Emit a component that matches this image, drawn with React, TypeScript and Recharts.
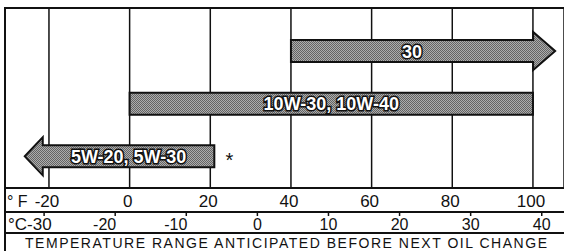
import React from "react";
import { BarChart, Bar, XAxis, YAxis, CartesianGrid, Label } from "recharts";

// oil grades and the °F range each covers (arrow ends included)
const oils = ["30", "10W-30, 10W-40", "5W-20, 5W-30"];
const lowF = [40, 0, -26];
const highF = [105.5, 100, 21];
const arrows = ["right", "none", "left"];
const notes = ["", "", "*"];

const fahrenheitTicks = [-20, 0, 20, 40, 60, 80, 100];
const celsiusTicks = [-30, -20, -10, 0, 10, 20, 30, 40];
const title = "TEMPERATURE RANGE ANTICIPATED BEFORE NEXT OIL CHANGE";

const data = oils.map((name, i) => ({
  name,
  range: [lowF[i], highF[i]],
  arrow: arrows[i],
  note: notes[i],
}));

const FONT = '"Liberation Sans", Arial, Helvetica, sans-serif';

function ArrowBar(props: any) {
  const { x, y, width, height, payload } = props;
  const cy = y + height / 2;
  const wing = 19;
  let d = "";
  let bodyL = x;
  let bodyR = x + width;
  if (payload.arrow === "right") {
    const head = 22;
    bodyR = x + width - head;
    d = `M${x},${y} H${bodyR} V${cy - wing} L${x + width},${cy} L${bodyR},${cy + wing} V${y + height} H${x} Z`;
  } else if (payload.arrow === "left") {
    const head = 18;
    bodyL = x + head;
    d = `M${x + width},${y} H${bodyL} V${cy - wing} L${x},${cy} L${bodyL},${cy + wing} V${y + height} H${x + width} Z`;
  } else {
    d = `M${x},${y} H${x + width} V${y + height} H${x} Z`;
  }
  return (
    <g>
      <defs>
        <pattern id="halftone" width="2" height="2" patternUnits="userSpaceOnUse">
          <rect width="2" height="2" fill="#adadad" />
          <rect width="1" height="1" fill="#646464" />
          <rect x="1" y="1" width="1" height="1" fill="#646464" />
        </pattern>
      </defs>
      <path d={d} fill="url(#halftone)" stroke="#111" strokeWidth={2} />
      <text
        x={(bodyL + bodyR) / 2}
        y={cy + 6.5}
        textAnchor="middle"
        fontFamily={FONT}
        fontWeight="bold"
        fontSize={18}
        fill="#fff"
        stroke="#111"
        strokeWidth={3}
        paintOrder="stroke"
      >
        {payload.name}
      </text>
      {payload.note ? (
        <text x={x + width + 15} y={cy + 11} textAnchor="middle" fontFamily={FONT} fontSize={20} fill="#111">
          {payload.note}
        </text>
      ) : null}
    </g>
  );
}

function FTick(props: any) {
  const { x, y, payload } = props;
  return (
    <text x={x - 2} y={y + 19} textAnchor="middle" fontFamily={FONT} fontSize={17} fill="#111">
      {payload.value}
    </text>
  );
}

function CTick(props: any) {
  const { x, y, payload } = props;
  const v = payload.value;
  if (v === celsiusTicks[0]) {
    return (
      <text x={8} y={y + 14} fontFamily={FONT} fontSize={17} fill="#111">
        {"°C" + v}
      </text>
    );
  }
  const anchor = v < 0 ? "end" : "middle";
  const tx = v < 0 ? x + 1 : x;
  return (
    <text x={tx} y={y + 14} textAnchor={anchor} fontFamily={FONT} fontSize={16} fill="#111">
      {String(v)}
    </text>
  );
}

export default function App() {
  return (
    <div style={{ position: "absolute", left: 0, top: 0, width: 564, height: 251, background: "#fff" }}>
      <BarChart
        width={564}
        height={251}
        data={data}
        layout="vertical"
        margin={{ top: 8, right: 0, left: 5, bottom: 0 }}
      >
        <CartesianGrid xAxisId="a" horizontal={false} stroke="#111" strokeWidth={1.5} />
        <XAxis
          xAxisId="a"
          type="number"
          domain={[-30.9, 107.7]}
          ticks={fahrenheitTicks}
          allowDataOverflow
          height={24}
          tickSize={0}
          tickMargin={0}
          tickLine={false}
          axisLine={{ stroke: "#111", strokeWidth: 2 }}
          tick={<FTick />}
          interval={0}
        >
          <Label
            content={(p: any) => (
              <text x={p.viewBox.x + 2} y={p.viewBox.y + 19} fontFamily={FONT} fontSize={16} fill="#111">
                ° F
              </text>
            )}
          />
        </XAxis>
        <XAxis
          xAxisId="b"
          type="number"
          domain={[-35.5, 43.13]}
          ticks={celsiusTicks}
          allowDataOverflow
          height={21}
          tickSize={4}
          tickMargin={0}
          tickLine={{ stroke: "#111", strokeWidth: 1.5 }}
          axisLine={{ stroke: "#111", strokeWidth: 2 }}
          tick={<CTick />}
          interval={0}
        />
        <XAxis
          xAxisId="c"
          type="number"
          domain={[0, 1]}
          height={18}
          tick={false}
          tickLine={false}
          axisLine={{ stroke: "#111", strokeWidth: 2 }}
        >
          <Label
            content={(p: any) => (
              <text
                x={p.viewBox.x + p.viewBox.width / 2 + 1.5}
                y={p.viewBox.y + 15}
                textAnchor="middle"
                fontFamily={FONT}
                fontSize={14}
                fill="#111"
                textLength={522}
                lengthAdjust="spacing"
              >
                {title}
              </text>
            )}
          />
        </XAxis>
        <YAxis type="category" dataKey="name" hide padding={{ top: 17, bottom: 5 }} />
        <Bar xAxisId="a" dataKey="range" barSize={22} shape={<ArrowBar />} isAnimationActive={false} />
      </BarChart>
      <div
        style={{
          position: "absolute",
          left: 4,
          top: 7,
          width: 560,
          height: 244,
          borderLeft: "2px solid #111",
          borderTop: "2px solid #111",
          boxSizing: "border-box",
          pointerEvents: "none",
        }}
      />
    </div>
  );
}
